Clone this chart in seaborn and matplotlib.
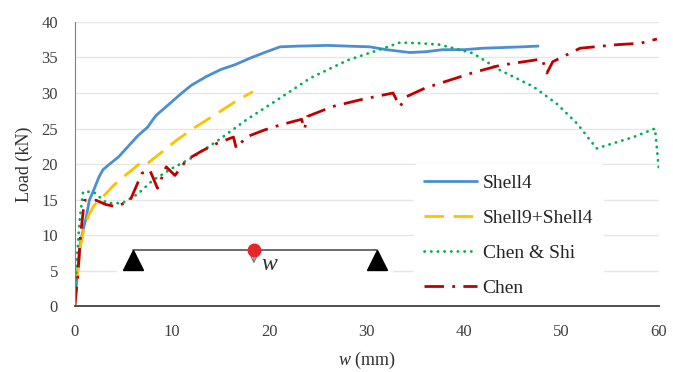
import numpy as np
import pandas as pd
import matplotlib.pyplot as plt
import seaborn as sns

# load-deflection curves
shell4_w = [0, 0.3, 0.6, 1.0, 1.2, 1.5, 2.0, 2.5, 2.9, 3.5, 4.5, 5.5, 6.5, 7.5, 8.0, 8.4,
            9.0, 10.0, 11.0, 12.0, 13.5, 15.0, 16.5, 18.0, 19.5, 21.1, 23.0, 26.0, 28.0,
            30.3, 32.0, 34.4, 36.0, 37.8, 40.0, 41.9, 44.0, 46.0, 47.6]
shell4_load = [0, 5, 9, 11.5, 12.6, 14.9, 16.5, 18.2, 19.2, 19.9, 21.0, 22.5, 24.0, 25.2, 26.2, 26.9,
               27.6, 28.8, 30.0, 31.1, 32.3, 33.3, 34.0, 34.9, 35.7, 36.5, 36.6, 36.7, 36.6,
               36.5, 36.1, 35.7, 35.8, 36.1, 36.1, 36.3, 36.4, 36.5, 36.6]

shell9_w = [0, 0.3, 0.6, 1.0, 1.5, 2.0, 2.9, 4.0, 5.0, 6.0, 6.7, 7.2, 8.5, 10.5, 12.5, 14.6, 16.5, 18.3]
shell9_load = [0, 4.5, 8.5, 11.2, 13.0, 14.2, 15.4, 17.0, 18.2, 19.3, 20.1, 19.8, 21.2, 23.4, 25.3,
               27.1, 28.8, 30.2]

chenshi_w = [0, 0.2, 0.5, 0.86, 1.9, 3.3, 4.9, 6.5, 8.0, 10.0, 12.2, 15.0, 17.6, 21.0, 24.2, 28.0,
             31.3, 33.4, 35.5, 37.5, 40.9, 43.7, 47.1, 49.5, 51.6, 53.6, 55.5, 57.4, 59.6, 60.0]
chenshi_load = [0, 6, 12, 16.1, 16.1, 14.5, 14.5, 15.8, 17.7, 19.4, 21.0, 23.6, 26.2, 29.2, 32.1, 34.6,
                36.1, 37.1, 37.0, 36.8, 35.6, 33.2, 30.9, 28.5, 25.7, 22.2, 23.0, 23.8, 25.0, 19.4]

chen_w = [0, 0.3, 0.6, 1.0, 2.2, 3.2, 4.3, 5.7, 6.9, 7.7, 8.5, 9.4, 10.3, 11.5, 13.0, 14.6, 16.3,
          16.6, 17.6, 19.5, 21.1, 23.3, 23.6, 23.9, 26.5, 29.5, 32.7, 33.4, 34.1, 36.0, 38.5, 41.0,
          43.7, 47.1, 48.0, 48.5, 49.1, 51.9, 55.7, 58.1, 59.8]
chen_load = [0, 4, 10, 14.9, 14.9, 14.3, 14.0, 14.9, 18.7, 19.2, 16.6, 19.6, 18.4, 20.6, 21.8, 22.9, 23.8,
             22.2, 23.8, 24.8, 25.5, 26.3, 24.9, 26.7, 28.1, 29.1, 30.0, 28.1, 29.5, 30.7, 31.8, 32.9,
             33.9, 34.6, 34.8, 32.8, 34.4, 36.3, 36.8, 37.0, 37.6]

series_names = ["Shell4", "Shell9+Shell4", "Chen & Shi", "Chen"]
colors = ["#4A8FD3", "#FFC000", "#00B050", "#C00000"]

sns.set_style("white")
plt.rcParams["font.family"] = ["Liberation Serif", "DejaVu Serif"]
plt.rcParams["mathtext.fontset"] = "custom"
plt.rcParams["mathtext.it"] = "Liberation Serif:italic"

fig = plt.figure(figsize=(6.73, 3.72), dpi=100)
ax = fig.add_axes([0.111, 0.177, 0.868, 0.764])

curves = [(shell4_w, shell4_load), (shell9_w, shell9_load), (chenshi_w, chenshi_load), (chen_w, chen_load)]
styles = [dict(linestyle="-"),
          dict(linestyle=(0, (7, 3.5))),
          dict(linestyle=(0, (0.1, 2.3)), dash_capstyle="round"),
          dict(linestyle=(0, (7, 3, 1, 3)))]
for (w, load), name, c, st in zip(curves, series_names, colors, styles):
    sns.lineplot(x=w, y=load, ax=ax, color=c, lw=2.0, label=name,
                 sort=False, estimator=None, **st)

ax.set_xlim(0, 60)
ax.set_ylim(0, 40)
ax.set_xticks(range(0, 61, 10))
ax.set_yticks(range(0, 41, 5))
ax.yaxis.grid(True, color="#E6E6E6", lw=1.0)
ax.set_axisbelow(True)
for s in ["top", "right"]:
    ax.spines[s].set_visible(False)
ax.spines["left"].set_color("#808080")
ax.spines["bottom"].set_color("#404040")
ax.spines["bottom"].set_linewidth(1.3)
ax.tick_params(length=0, labelsize=12, colors="#404040")
ax.tick_params(axis="y", pad=12)
ax.tick_params(axis="x", pad=13)
ax.set_ylabel("Load (kN)", fontsize=13, color="#303030", labelpad=6)
ax.set_xlabel("$w$ (mm)", fontsize=13, color="#303030", labelpad=7)

# simply supported beam sketch
ax.add_patch(plt.Rectangle((4.3, 0.6), 28.3, 8.8, color="white", zorder=1.5))
ax.plot([6.0, 31.0], [7.9, 7.9], color="#606060", lw=1.3, zorder=3)
ax.plot([6.0, 31.0], [6.5, 6.5], marker="^", ms=14, color="black", lw=0, zorder=4)
ax.annotate("", xy=(18.4, 5.6), xytext=(18.4, 7.9),
            arrowprops=dict(arrowstyle="->", color="#808080", lw=1), zorder=4)
ax.plot([18.4], [7.9], marker="o", ms=9, color="#E8262A", zorder=5)
ax.text(19.1, 5.9, "$w$", fontsize=17, color="#303030", va="center", ha="left", zorder=5)

leg = ax.legend(loc="upper left", bbox_to_anchor=(0.565, 0.533), frameon=True, fontsize=14,
                handlelength=2.7, labelspacing=0.9, handletextpad=0.3, borderpad=0.5)
leg.get_frame().set_edgecolor("white")
leg.get_frame().set_facecolor("white")
leg.get_frame().set_alpha(1)
leg.set_zorder(2.4)

fig.savefig("out.png", dpi=100)
